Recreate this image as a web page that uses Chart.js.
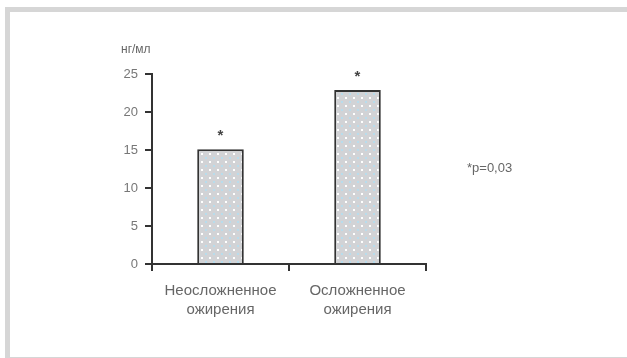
<!DOCTYPE html>
<html>
<head>
<meta charset="utf-8">
<script src="https://cdn.jsdelivr.net/npm/chart.js@4"></script>
<style>
  html, body { margin: 0; padding: 0; background: #fff; }
  body { width: 627px; height: 358px; position: relative; overflow: hidden; }
  .frame {
    position: absolute; left: 5px; top: 7px; right: 0; bottom: 0;
    border-top: 5px solid #d6d6d6; border-left: 5px solid #d6d6d6;
    border-bottom: 1px solid #d6d6d6;
  }
  #wrap { position: absolute; left: 0; top: 0; width: 627px; height: 358px; }
</style>
</head>
<body>
<div class="frame"></div>
<div id="wrap"><canvas id="chart"></canvas></div>
<script>
// Chart data
const categories = [['Неосложненное', 'ожирения'], ['Осложненное', 'ожирения']];
const values = [15.1, 22.9];
const marks = ['*', '*'];
const yTicks = [0, 5, 10, 15, 20, 25];
const unitLabel = 'нг/мл';
const noteText = '*p=0,03';

const FONT = "'Liberation Sans', Arial, sans-serif";

// dotted grey fill like the scanned bars
function makePattern() {
    const c = document.createElement('canvas');
    c.width = 8; c.height = 8;
    const g = c.getContext('2d');
    g.fillStyle = '#d2d3d6';
    g.fillRect(0, 0, 8, 8);
    g.fillStyle = '#ffffff';
    g.fillRect(1, 1, 2, 2);
    g.fillStyle = '#b8dcec';
    g.fillRect(5, 5, 2, 2);
    return g.createPattern(c, 'repeat');
}

// extra texts: unit above the axis, stars over bars, p-value note
const extraText = {
    id: 'extraText',
    afterDatasetsDraw(chart) {
        const ctx = chart.ctx;
        const meta = chart.getDatasetMeta(0);
        ctx.save();
        ctx.fillStyle = '#444';
        ctx.textAlign = 'center';
        ctx.textBaseline = 'middle';
        ctx.font = 'bold 15px ' + FONT;
        meta.data.forEach((bar, i) => {
            ctx.fillText(marks[i], bar.x, bar.y - 13);
        });
        ctx.font = '12px ' + FONT;
        ctx.fillStyle = '#666';
        ctx.textAlign = 'left';
        ctx.fillText(unitLabel, 121, 50);
        ctx.font = '13px ' + FONT;
        ctx.fillText(noteText, 467, 168);
        ctx.restore();
    }
};

const ctx = document.getElementById('chart').getContext('2d');
new Chart(ctx, {
    type: 'bar',
    data: {
        labels: categories,
        datasets: [{
            data: values,
            backgroundColor: makePattern(),
            borderColor: '#333',
            borderWidth: 2,
            barPercentage: 0.68,
            categoryPercentage: 0.5
        }]
    },
    options: {
        responsive: true,
        maintainAspectRatio: false,
        animation: false,
        layout: { padding: { left: 0, right: 201, top: 74, bottom: 0 } },
        plugins: {
            legend: { display: false },
            tooltip: { enabled: false }
        },
        scales: {
            y: {
                min: 0,
                max: 25,
                afterBuildTicks: (scale) => {
                    scale.ticks = yTicks.map(v => ({ value: v }));
                },
                afterFit: (scale) => { scale.width = 152; },
                border: { display: true, color: '#333', width: 2 },
                grid: { drawOnChartArea: false, drawTicks: true, tickLength: 7, color: '#333', lineWidth: 2 },
                ticks: { color: '#777', padding: 7, font: { size: 13, family: FONT } }
            },
            x: {
                afterFit: (scale) => { scale.height = 94; },
                border: { display: true, color: '#333', width: 2 },
                grid: { offset: true, drawOnChartArea: false, drawTicks: true, tickLength: 7, color: '#333', lineWidth: 2 },
                ticks: { color: '#666', padding: 10, font: { size: 15, family: FONT, lineHeight: 1.3 } }
            }
        }
    },
    plugins: [extraText]
});
</script>
</body>
</html>
